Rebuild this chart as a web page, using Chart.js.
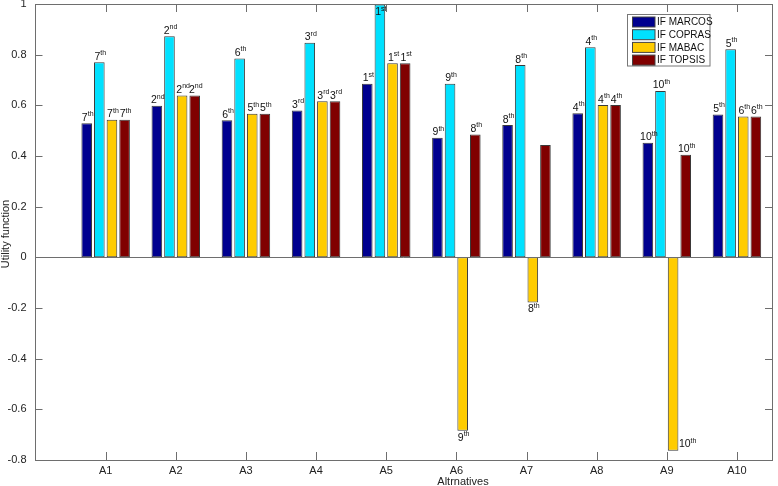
<!DOCTYPE html>
<html>
<head>
<meta charset="utf-8">
<script src="https://cdn.jsdelivr.net/npm/chart.js@4/dist/chart.umd.min.js"></script>
<style>
  html, body { margin: 0; padding: 0; background: #fff; }
  #wrap { width: 778px; height: 486px; }
</style>
</head>
<body>
<div id="wrap"><canvas id="chart" width="778" height="486"></canvas></div>
<script>
// Data
const categories = ['A1', 'A2', 'A3', 'A4', 'A5', 'A6', 'A7', 'A8', 'A9', 'A10'];
const ifMarcos = [0.529, 0.598, 0.541, 0.580, 0.685, 0.472, 0.522, 0.569, 0.452, 0.564];
const ifCopras = [0.770, 0.873, 0.785, 0.847, 0.998, 0.685, 0.759, 0.829, 0.657, 0.821];
const ifMabac = [0.543, 0.639, 0.567, 0.616, 0.766, -0.685, -0.178, 0.601, -0.763, 0.556];
const ifTopsis = [0.543, 0.639, 0.567, 0.616, 0.766, 0.485, 0.443, 0.601, 0.405, 0.556];

// rank shown above each bar (null = no label)
const rankMarcos = [7, 2, 6, 3, 1, 9, 8, 4, 10, 5];
const rankCopras = [7, 2, 6, 3, 1, 9, 8, 4, 10, 5];
const rankMabac = [7, 2, 5, 3, 1, 9, 8, 4, 10, 6];
const rankTopsis = [7, 2, 5, 3, 1, 8, null, 4, 10, 6];

const yTicks = [-0.8, -0.6, -0.4, -0.2, 0, 0.2, 0.4, 0.6, 0.8, 1];
const yTickLabels = ['-0.8', '-0.6', '-0.4', '-0.2', '0', '0.2', '0.4', '0.6', '0.8', '1'];

const FONT = '"Liberation Sans", Arial, sans-serif';
const AXIS_COLOR = '#6e6e6e';

function toPoints(values) {
    return values.map((v, i) => ({ x: i + 1, y: v }));
}

function suffix(n) {
    if (n === 1) return 'st';
    if (n === 2) return 'nd';
    if (n === 3) return 'rd';
    return 'th';
}

// ==================== RANK LABELS ====================
const rankLabels = {
    id: 'rankLabels',
    afterDatasetsDraw(chart) {
        const ctx = chart.ctx;
        const area = chart.chartArea;
        const ranks = [rankMarcos, rankCopras, rankMabac, rankTopsis];
        ctx.save();
        ctx.fillStyle = '#111';
        ctx.textBaseline = 'alphabetic';
        chart.data.datasets.forEach((ds, d) => {
            const meta = chart.getDatasetMeta(d);
            meta.data.forEach((el, i) => {
                const r = ranks[d][i];
                if (r === null) return;
                const num = String(r);
                const sup = suffix(r);
                ctx.font = '10.5px ' + FONT;
                const wNum = ctx.measureText(num).width;
                ctx.font = '7px ' + FONT;
                const wSup = ctx.measureText(sup).width;
                const total = wNum + wSup;
                let left = el.x + 1 - total / 2;
                let baseline;
                const value = ds.data[i].y;
                if (value >= 0) {
                    baseline = el.y - 2.5;
                    if (baseline - 9 < area.top) baseline = area.top + 11;
                } else {
                    baseline = el.y + 10;
                    if (baseline > area.bottom - 2) {
                        left = el.x + el.width / 2 + 0.5;
                        baseline = el.y - 3.5;
                    }
                }
                ctx.font = '10.5px ' + FONT;
                ctx.fillText(num, left, baseline);
                ctx.font = '7px ' + FONT;
                ctx.fillText(sup, left + wNum, baseline - 4.5);
            });
        });
        ctx.restore();
    }
};

// ==================== AXES BOX, TICKS, TITLES, LEGEND ====================
const frame = {
    id: 'frame',
    afterDraw(chart) {
        const ctx = chart.ctx;
        const a = chart.chartArea;
        const xs = chart.scales.x;
        const ys = chart.scales.y;
        ctx.save();
        ctx.strokeStyle = AXIS_COLOR;
        ctx.lineWidth = 1;

        // box
        ctx.strokeRect(Math.floor(a.left) + 0.5, Math.floor(a.top) + 0.5,
            Math.round(a.right - a.left), Math.round(a.bottom - a.top));

        // zero baseline
        const y0 = Math.round(ys.getPixelForValue(0)) + 0.5;
        ctx.beginPath();
        ctx.moveTo(a.left, y0);
        ctx.lineTo(a.right, y0);
        ctx.stroke();

        // inward tick marks
        ctx.beginPath();
        yTicks.forEach(v => {
            const y = Math.round(ys.getPixelForValue(v)) + 0.5;
            ctx.moveTo(a.left, y); ctx.lineTo(a.left + 7, y);
            ctx.moveTo(a.right, y); ctx.lineTo(a.right - 7, y);
        });
        categories.forEach((c, i) => {
            const x = Math.round(xs.getPixelForValue(i + 1)) + 0.5;
            ctx.moveTo(x, a.bottom); ctx.lineTo(x, a.bottom - 8);
            ctx.moveTo(x, a.top); ctx.lineTo(x, a.top + 8);
        });
        ctx.stroke();

        // axis titles
        ctx.fillStyle = '#222';
        ctx.font = '11px ' + FONT;
        ctx.textAlign = 'center';
        ctx.textBaseline = 'alphabetic';
        ctx.fillText('Altrnatives', 463, 485);
        ctx.save();
        ctx.translate(8.5, (a.top + a.bottom) / 2 + 2);
        ctx.rotate(-Math.PI / 2);
        ctx.fillText('Utility function', 0, 0);
        ctx.restore();

        // legend
        const lx = 627.5, ly = 14.5, lw = 82.5, lh = 51.5;
        ctx.fillStyle = '#fff';
        ctx.fillRect(lx, ly, lw, lh);
        ctx.strokeStyle = '#777';
        ctx.strokeRect(lx, ly, lw, lh);
        ctx.textAlign = 'left';
        ctx.textBaseline = 'middle';
        ctx.font = '10px ' + FONT;
        chart.data.datasets.forEach((ds, i) => {
            const ry = ly + 2.5 + i * 12.7;
            ctx.fillStyle = ds.backgroundColor;
            ctx.fillRect(632.5, ry, 22.5, 10);
            ctx.strokeStyle = '#444';
            ctx.strokeRect(632.5, ry, 22.5, 10);
            ctx.fillStyle = '#111';
            ctx.fillText(ds.label, 657, ry + 5.5);
        });
        ctx.restore();
    }
};

const barStyle = {
    borderColor: '#3a3a3a',
    borderWidth: 1,
    borderSkipped: false,
    barPercentage: 0.84,
    categoryPercentage: 0.72
};

new Chart(document.getElementById('chart'), {
    type: 'bar',
    data: {
        datasets: [
            Object.assign({ label: 'IF MARCOS', data: toPoints(ifMarcos), backgroundColor: '#00008f' }, barStyle),
            Object.assign({ label: 'IF COPRAS', data: toPoints(ifCopras), backgroundColor: '#00e1ff' }, barStyle),
            Object.assign({ label: 'IF MABAC', data: toPoints(ifMabac), backgroundColor: '#ffcc00' }, barStyle),
            Object.assign({ label: 'IF TOPSIS', data: toPoints(ifTopsis), backgroundColor: '#800000' }, barStyle)
        ]
    },
    options: {
        responsive: false,
        animation: false,
        devicePixelRatio: 1,
        layout: { padding: { left: 0, top: 4, right: 6, bottom: 0 } },
        plugins: {
            legend: { display: false },
            tooltip: { enabled: false }
        },
        scales: {
            x: {
                type: 'linear',
                min: 0,
                max: 10.5,
                offset: false,
                grid: { display: false, offset: false },
                border: { display: false },
                ticks: {
                    autoSkip: false,
                    maxRotation: 0,
                    padding: -4,
                    color: '#222',
                    font: { family: FONT, size: 11 },
                    callback: (v) => categories[v - 1] || ''
                },
                afterBuildTicks: s => { s.ticks = categories.map((c, i) => ({ value: i + 1 })); },
                afterFit: s => { s.height = 26; s.paddingLeft = 0; s.paddingRight = 0; }
            },
            y: {
                min: -0.8,
                max: 1,
                grid: { display: false },
                border: { display: false },
                ticks: {
                    padding: 1,
                    color: '#222',
                    font: { family: FONT, size: 11 },
                    callback: (v, i) => yTickLabels[i]
                },
                afterBuildTicks: s => { s.ticks = yTicks.map(v => ({ value: v })); },
                afterFit: s => { s.width = 35.5; s.paddingTop = 0; s.paddingBottom = 0; }
            }
        }
    },
    plugins: [rankLabels, frame]
});
</script>
</body>
</html>
